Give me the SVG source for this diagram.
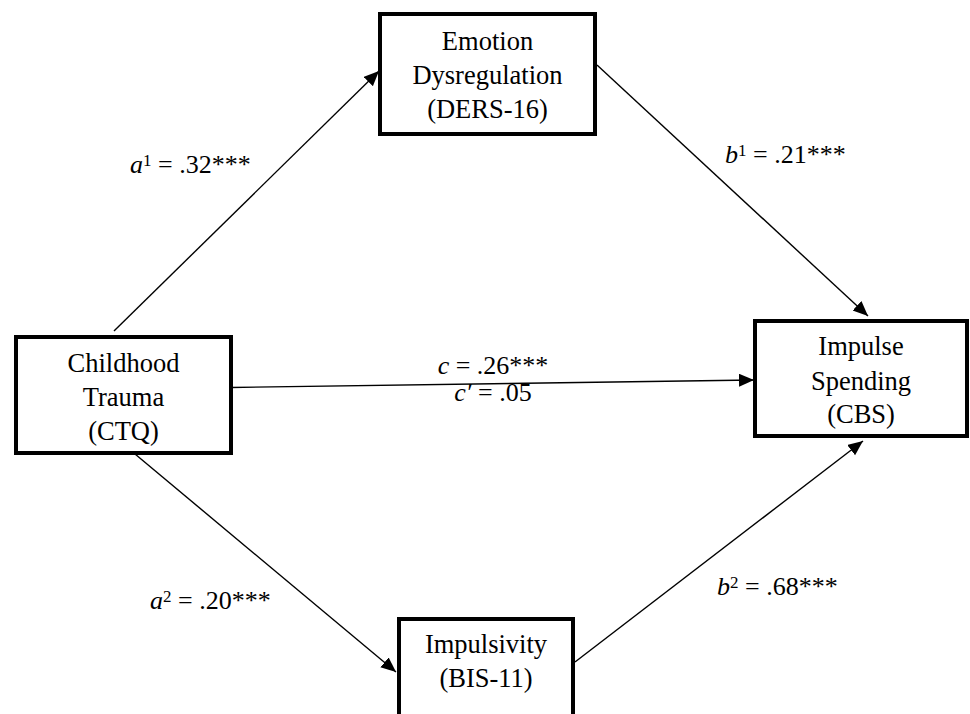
<svg xmlns="http://www.w3.org/2000/svg" width="970" height="714" viewBox="0 0 970 714" font-family="Liberation Serif, DejaVu Serif, serif">
  <style>
    .box { fill: #ffffff; stroke: #000000; stroke-width: 4; }
    .nt { font-size: 26.5px; fill: #000000; text-anchor: middle; }
    .lbl { font-size: 26px; fill: #000000; }
    .it { font-style: italic; }
    .sup { font-size: 17px; }
    .edge { stroke: #000000; stroke-width: 1.4; fill: none; marker-end: url(#arrow); }
  </style>
  <defs>
    <marker id="arrow" markerUnits="userSpaceOnUse" markerWidth="16" markerHeight="14" refX="15" refY="6.5" orient="auto">
      <path d="M0,0 L15,6.5 L0,13 Z" fill="#000000"/>
    </marker>
  </defs>
  <rect width="970" height="714" fill="#ffffff"/>

  <g id="connectors">
    <line id="e-a1" class="edge" x1="114" y1="331" x2="379" y2="71"/>
    <line id="e-b1" class="edge" x1="597" y1="65" x2="868" y2="316"/>
    <line id="e-c" class="edge" x1="231" y1="387.5" x2="754" y2="380"/>
    <line id="e-a2" class="edge" x1="135" y1="454" x2="396" y2="672"/>
    <line id="e-b2" class="edge" x1="575" y1="662" x2="863" y2="441"/>
  </g>

  <g id="labels" font-family="Liberation Serif, serif">
    <text class="lbl" x="130" y="173"><tspan class="it">a</tspan><tspan class="sup" dy="-7">1</tspan><tspan dy="7"> = .32***</tspan></text>
    <text class="lbl" x="725" y="163"><tspan class="it">b</tspan><tspan class="sup" dy="-7">1</tspan><tspan dy="7"> = .21***</tspan></text>
    <text class="lbl" x="493" y="374" text-anchor="middle"><tspan class="it">c</tspan> = .26***</text>
    <text class="lbl" x="493" y="401" text-anchor="middle"><tspan class="it">c′</tspan> = .05</text>
    <text class="lbl" x="150" y="609"><tspan class="it">a</tspan><tspan class="sup" dy="-7">2</tspan><tspan dy="7"> = .20***</tspan></text>
    <text class="lbl" x="717" y="595"><tspan class="it">b</tspan><tspan class="sup" dy="-7">2</tspan><tspan dy="7"> = .68***</tspan></text>
  </g>

  <g id="node-emotion" font-family="Liberation Serif, serif">
    <rect class="box" x="380" y="14" width="215" height="120"/>
    <text class="nt" x="487.5" y="50">Emotion</text>
    <text class="nt" x="487.5" y="84">Dysregulation</text>
    <text class="nt" x="487.5" y="118">(DERS-16)</text>
  </g>

  <g id="node-childhood" font-family="Liberation Serif, serif">
    <rect class="box" x="16" y="337" width="215" height="116"/>
    <text class="nt" x="123.5" y="372">Childhood</text>
    <text class="nt" x="123.5" y="406">Trauma</text>
    <text class="nt" x="123.5" y="440">(CTQ)</text>
  </g>

  <g id="node-spending" font-family="Liberation Serif, serif">
    <rect class="box" x="755" y="321" width="212" height="115"/>
    <text class="nt" x="861" y="355">Impulse</text>
    <text class="nt" x="861" y="390">Spending</text>
    <text class="nt" x="861" y="423">(CBS)</text>
  </g>

  <g id="node-impulsivity" font-family="Liberation Serif, serif">
    <rect class="box" x="399" y="619" width="174" height="110"/>
    <text class="nt" x="486" y="653">Impulsivity</text>
    <text class="nt" x="486" y="687">(BIS-11)</text>
  </g>
</svg>
